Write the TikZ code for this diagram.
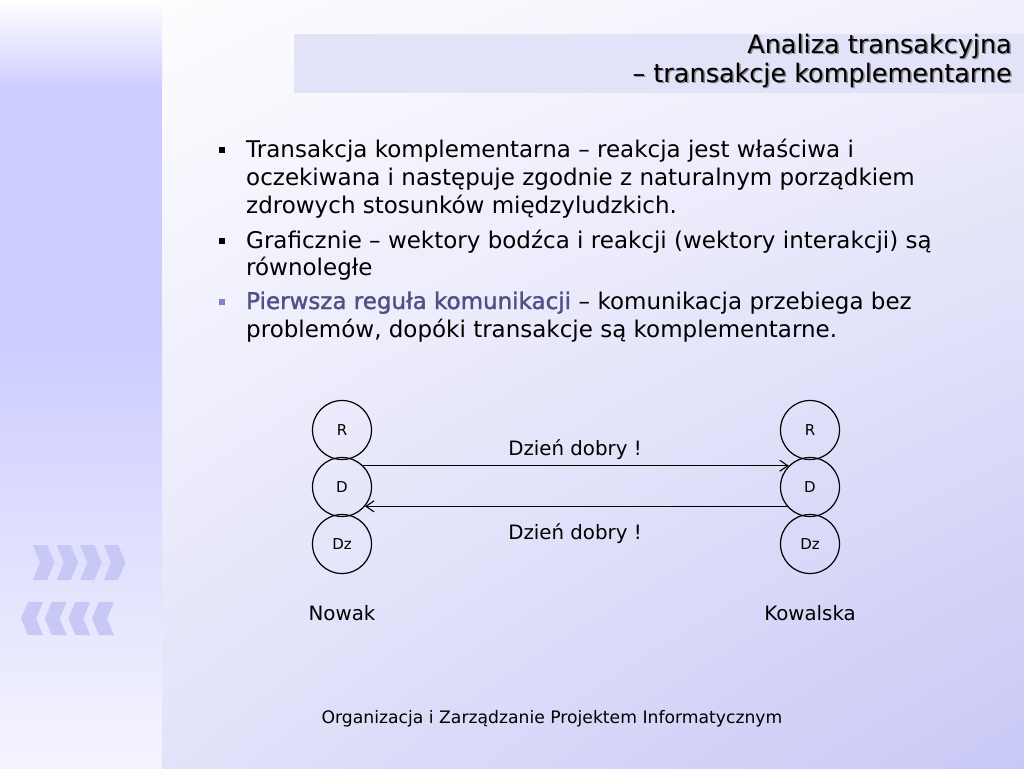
\documentclass[tikz,border=0pt]{standalone}
\usepackage{fontspec}
\setmainfont{DejaVu Sans}
\newfontfamily\heavyfont[FakeBold=1.5]{DejaVu Sans}
\usetikzlibrary{arrows.meta,shadings}
\definecolor{bgUL}{RGB}{253,253,255}
\definecolor{bgUR}{RGB}{240,240,252}
\definecolor{bgLL}{RGB}{226,226,250}
\definecolor{bgLR}{RGB}{200,200,246}
\definecolor{bandc}{RGB}{204,204,255}
\definecolor{bandbot}{RGB}{244,244,254}
\definecolor{titlebar}{RGB}{226,226,248}
\definecolor{chev}{RGB}{200,200,246}
\definecolor{rulec}{RGB}{80,80,135}
\definecolor{rulebul}{RGB}{130,130,200}
\tikzset{
  pers/.style={draw, circle, minimum size=59pt, inner sep=0pt, line width=1.2pt, font=\fontsize{15}{17}\selectfont},
  bodytext/.style={anchor=base west, inner sep=0pt, font=\fontsize{23}{28}\selectfont},
  titletext/.style={anchor=base east, inner sep=0pt, font=\fontsize{25.5}{30}\selectfont},
  msg/.style={anchor=base, inner sep=0pt, font=\fontsize{19.8}{23}\selectfont},
  arr/.style={line width=1.1pt, -{Straight Barb[length=8pt,width=11pt]}},
  bul/.style={fill=black, minimum size=6pt, inner sep=0pt}
}
\begin{document}
\begin{tikzpicture}[x=1pt,y=-1pt]
\useasboundingbox (0,0) rectangle (1024,768);
% backgrounds
\shade[upper left=bgUL, upper right=bgUR, lower left=bgLL, lower right=bgLR] (162,0) rectangle (1024,768);
\shade[top color=white, bottom color=bandc] (0,0) rectangle (162,90);
\fill[bandc] (0,89.5) rectangle (162,330);
\shade[top color=bandc, bottom color=bandbot] (0,329.5) rectangle (162,768);
% chevrons
\foreach \x in {33,56.7,80.3,104}{
  \fill[chev] (\x,545) -- (\x+14,545) -- (\x+21.5,562.5) -- (\x+14,580) -- (\x,580) -- (\x+7,562.5) -- cycle;
}
\foreach \x in {21,44.7,68.3,92}{
  \fill[chev] (\x,618.5) -- (\x+7,602) -- (\x+22,602) -- (\x+15,618.5) -- (\x+22,635) -- (\x+7,635) -- cycle;
}
% title
\fill[titlebar] (294,34) rectangle (1024,93);
\node[titletext, text=black!45] at (1013.5,54.5) {Analiza transakcyjna};
\node[titletext, text=black!45] at (1013.5,83.5) {– transakcje komplementarne};
\node[titletext] (t1) at (1012,53) {Analiza transakcyjna};
\node[titletext] (t2) at (1012,82) {– transakcje komplementarne};
% bullets
\node[bul] (b1) at (222,150) {};
\node[bodytext] (l1) at (246,157) {Transakcja komplementarna – reakcja jest właściwa i};
\node[bodytext] (l2) at (246,185) {oczekiwana i następuje zgodnie z naturalnym porządkiem};
\node[bodytext] (l3) at (246,213) {zdrowych stosunków międzyludzkich.};
\node[bul] (b2) at (222,241) {};
\node[bodytext] (l4) at (246,248) {Graficznie – wektory bodźca i reakcji (wektory interakcji) są};
\node[bodytext] (l5) at (246,275) {równoległe};
\node[bul, fill=rulebul] (b3) at (222,302) {};
\node[bodytext, text=rulec, font=\fontsize{23}{28}\heavyfont] (l6a) at (246,309) {Pierwsza reguła komunikacji};
\node[bodytext] (l6b) at (l6a.base east) {\ – komunikacja przebiega bez};
\node[bodytext] (l7) at (246,337) {problemów, dopóki transakcje są komplementarne.};
% diagram
\node[pers] (Rl) at (342,430) {R};
\node[pers] (Dl) at (342,487) {D};
\node[pers] (Dzl) at (342,544) {Dz};
\node[pers] (Rr) at (810,430) {R};
\node[pers] (Dr) at (810,487) {D};
\node[pers] (Dzr) at (810,544) {Dz};
\draw[arr] (Dl.45) -- (Dr.135);
\draw[arr] (Dr.-140) -- (Dl.-40);
\node[msg] (m1) at (575,455) {Dzień dobry !};
\node[msg] (m2) at (575,539) {Dzień dobry !};
\node[msg] (n1) at (342,620) {Nowak};
\node[msg] (n2) at (810,620) {Kowalska};
% footer
\node[anchor=base, inner sep=0pt, font=\fontsize{17.2}{20}\selectfont] (f) at (552,723) {Organizacja i Zarządzanie Projektem Informatycznym};
\end{tikzpicture}
\end{document}
